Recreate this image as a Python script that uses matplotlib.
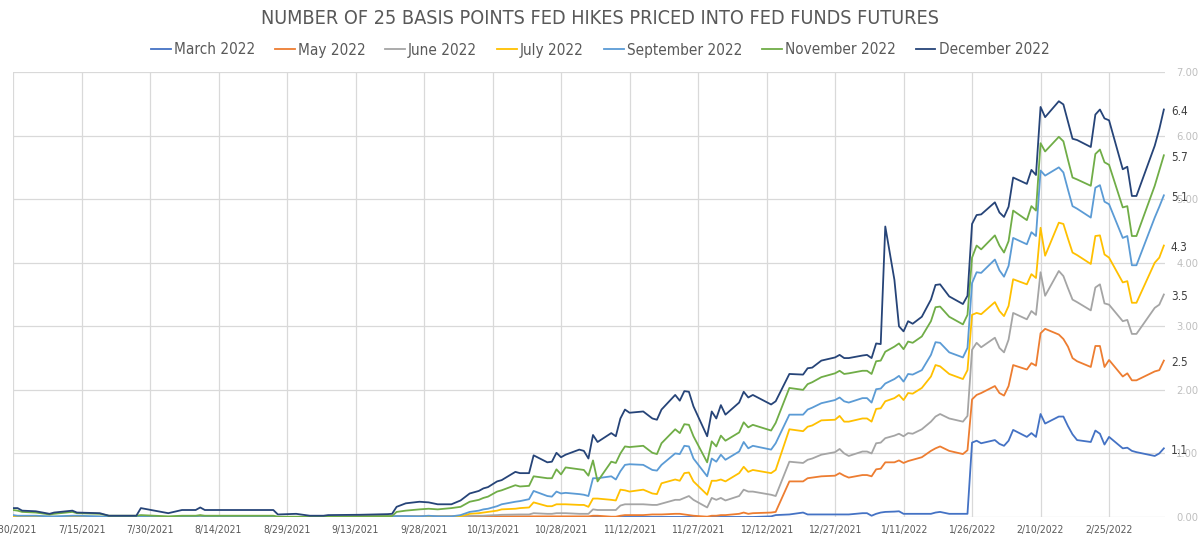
import matplotlib
matplotlib.use("Agg")
import matplotlib.pyplot as plt
from matplotlib import font_manager as fm
import pandas as pd
import datetime as dt

# ---------------- data ----------------
dates = [
    # Jul - Sep 2021
    "2021-06-30", "2021-07-01", "2021-07-02", "2021-07-05", "2021-07-08", "2021-07-09",
    "2021-07-13", "2021-07-14", "2021-07-19", "2021-07-21", "2021-07-27", "2021-07-28",
    "2021-08-03", "2021-08-06", "2021-08-09", "2021-08-10", "2021-08-11", "2021-08-26",
    "2021-08-27", "2021-08-31", "2021-09-03", "2021-09-06", "2021-09-07", "2021-09-14",
    "2021-09-20",
    # Sep 21 - Nov 5
    "2021-09-21", "2021-09-22", "2021-09-24", "2021-09-27", "2021-09-29", "2021-10-01",
    "2021-10-04", "2021-10-06", "2021-10-08", "2021-10-10", "2021-10-11", "2021-10-12",
    "2021-10-14", "2021-10-15", "2021-10-18", "2021-10-19", "2021-10-21", "2021-10-22",
    "2021-10-25", "2021-10-26", "2021-10-27", "2021-10-28", "2021-10-29", "2021-11-01",
    "2021-11-02", "2021-11-03", "2021-11-04", "2021-11-05",
    # Nov 8 - Dec 30
    "2021-11-08", "2021-11-09", "2021-11-10", "2021-11-11", "2021-11-12", "2021-11-15",
    "2021-11-17", "2021-11-18", "2021-11-19", "2021-11-22", "2021-11-23", "2021-11-24",
    "2021-11-25", "2021-11-26", "2021-11-29", "2021-11-30", "2021-12-01", "2021-12-02",
    "2021-12-03", "2021-12-06", "2021-12-07", "2021-12-08", "2021-12-09", "2021-12-13",
    "2021-12-14", "2021-12-17", "2021-12-20", "2021-12-21", "2021-12-22", "2021-12-24",
    "2021-12-27", "2021-12-28", "2021-12-29", "2021-12-30",
    # Jan 2022
    "2022-01-02", "2022-01-03", "2022-01-04", "2022-01-05", "2022-01-06", "2022-01-07",
    "2022-01-09", "2022-01-10", "2022-01-11", "2022-01-12", "2022-01-13", "2022-01-15",
    "2022-01-17", "2022-01-18", "2022-01-19", "2022-01-21", "2022-01-24", "2022-01-25",
    # Jan 26 - Mar 9 2022
    "2022-01-26", "2022-01-27", "2022-01-28", "2022-01-31", "2022-02-01", "2022-02-02",
    "2022-02-03", "2022-02-04", "2022-02-07", "2022-02-08", "2022-02-09", "2022-02-10",
    "2022-02-11", "2022-02-14", "2022-02-15", "2022-02-16", "2022-02-17", "2022-02-18",
    "2022-02-21", "2022-02-22", "2022-02-23", "2022-02-24", "2022-02-25", "2022-02-28",
    "2022-03-01", "2022-03-02", "2022-03-03", "2022-03-07", "2022-03-08", "2022-03-09",
]

march_2022 = (
    [0.01, 0.01, 0.005, 0, 0, 0, 0, 0, 0, 0, 0, 0, 0, 0, 0, 0, 0, 0, 0, 0, 0, 0, 0, 0, 0]
    + [0, 0, 0, 0, 0, 0, 0, 0, 0, 0, 0, 0, 0, 0, 0, 0, 0, 0, 0, 0, 0, 0, 0, 0, 0, 0, 0, 0]
    + [0, 0, 0, 0, 0, 0, 0, 0, 0, 0, 0, 0, 0, 0, 0, 0, 0, 0, 0, 0, 0, 0, 0,
       0.01, 0.03, 0.04, 0.07, 0.04, 0.04, 0.04, 0.04, 0.04, 0.04, 0.04]
    + [0.06, 0.06, 0.02, 0.05, 0.07, 0.08, 0.085, 0.09, 0.05, 0.05, 0.05, 0.05, 0.05,
       0.07, 0.08, 0.05, 0.05, 0.05]
    + [1.17, 1.20, 1.16, 1.21, 1.15, 1.12, 1.20, 1.37, 1.26, 1.32, 1.26, 1.62, 1.47, 1.58,
       1.58, 1.43, 1.30, 1.21, 1.18, 1.36, 1.31, 1.14, 1.26, 1.08, 1.09, 1.04, 1.02, 0.96,
       1.00, 1.08]
)
may_2022 = (
    [0, 0, 0, 0, 0, 0, 0, 0, 0, 0, 0, 0, 0, 0, 0, 0, 0, 0, 0, 0, 0, 0, 0, 0.01, 0.01]
    + [0.01, 0.01, 0.01, 0.01, 0.01, 0.01, 0.01, 0.01, 0.01, 0.01, 0.01, 0.01, 0.01, 0.01,
       0.01, 0.01, 0.01, 0.01, 0.01, 0.01, 0.01, 0.01, 0.01, 0.01, 0.01, 0.01, 0.02, 0.02]
    + [0.005, 0.005, 0.02, 0.03, 0.03, 0.03, 0.04, 0.04, 0.04, 0.05, 0.05, 0.04, 0.03, 0.02,
       0.005, 0.02, 0.02, 0.03, 0.03, 0.05, 0.07, 0.05, 0.06, 0.07, 0.08, 0.56, 0.56, 0.61,
       0.62, 0.64, 0.65, 0.69, 0.65, 0.62]
    + [0.66, 0.66, 0.64, 0.75, 0.76, 0.86, 0.86, 0.89, 0.85, 0.88, 0.90, 0.94, 1.04, 1.08,
       1.11, 1.04, 0.99, 1.05]
    + [1.85, 1.92, 1.95, 2.06, 1.95, 1.91, 2.06, 2.39, 2.32, 2.42, 2.38, 2.89, 2.96, 2.87,
       2.80, 2.68, 2.50, 2.45, 2.36, 2.69, 2.69, 2.36, 2.47, 2.21, 2.26, 2.15, 2.15, 2.29,
       2.31, 2.46]
)
june_2022 = (
    [0, 0, 0, 0, 0, 0, 0, 0, 0, 0, 0, 0, 0, 0, 0, 0, 0, 0, 0, 0, 0, 0, 0, 0, 0]
    + [0.005, 0.005, 0.005, 0.01, 0.01, 0.01, 0.01, 0.01, 0.015, 0.02, 0.02, 0.025, 0.03,
       0.035, 0.04, 0.04, 0.04, 0.06, 0.05, 0.05, 0.06, 0.06, 0.06, 0.05, 0.05, 0.05, 0.12,
       0.11]
    + [0.11, 0.11, 0.18, 0.20, 0.20, 0.20, 0.19, 0.19, 0.21, 0.27, 0.27, 0.30, 0.33, 0.27,
       0.15, 0.30, 0.27, 0.30, 0.26, 0.33, 0.43, 0.40, 0.40, 0.35, 0.33, 0.87, 0.85, 0.90,
       0.92, 0.98, 1.02, 1.07, 1.00, 0.96]
    + [1.03, 1.03, 1.00, 1.16, 1.17, 1.24, 1.28, 1.31, 1.27, 1.32, 1.31, 1.38, 1.50, 1.58,
       1.62, 1.55, 1.50, 1.59]
    + [2.63, 2.74, 2.67, 2.82, 2.66, 2.59, 2.79, 3.21, 3.11, 3.24, 3.18, 3.85, 3.48, 3.87,
       3.79, 3.60, 3.42, 3.38, 3.25, 3.61, 3.66, 3.36, 3.34, 3.08, 3.10, 2.88, 2.88, 3.29,
       3.34, 3.50]
)
july_2022 = (
    [0.01, 0.01, 0.01, 0.01, 0.005, 0.005, 0.005, 0.005, 0.005, 0, 0, 0, 0, 0, 0, 0, 0, 0,
     0, 0, 0, 0, 0, 0, 0]
    + [0.005, 0.005, 0.005, 0.005, 0.005, 0.005, 0.005, 0.01, 0.05, 0.06, 0.07, 0.08, 0.10,
       0.12, 0.13, 0.14, 0.15, 0.23, 0.17, 0.17, 0.20, 0.20, 0.20, 0.19, 0.19, 0.16, 0.29,
       0.29]
    + [0.27, 0.26, 0.43, 0.42, 0.40, 0.43, 0.37, 0.36, 0.53, 0.59, 0.57, 0.69, 0.70, 0.56,
       0.35, 0.57, 0.57, 0.59, 0.56, 0.69, 0.79, 0.71, 0.74, 0.69, 0.74, 1.38, 1.35, 1.42,
       1.44, 1.52, 1.53, 1.59, 1.50, 1.50]
    + [1.55, 1.55, 1.50, 1.70, 1.71, 1.82, 1.87, 1.92, 1.84, 1.95, 1.94, 2.03, 2.21, 2.39,
       2.37, 2.25, 2.17, 2.31]
    + [3.18, 3.21, 3.19, 3.38, 3.24, 3.16, 3.32, 3.74, 3.66, 3.82, 3.76, 4.55, 4.11, 4.63,
       4.61, 4.38, 4.16, 4.12, 3.98, 4.42, 4.43, 4.13, 4.08, 3.69, 3.71, 3.37, 3.37, 4.00,
       4.08, 4.27]
)
september_2022 = (
    [0.03, 0.02, 0.02, 0.02, 0.01, 0.01, 0.02, 0.02, 0.01, 0.0, 0.0, 0.01, 0.0, 0.01, 0.01,
     0.02, 0.01, 0.01, 0.0, 0.0, 0.0, 0.0, 0.0, 0.005, 0.01]
    + [0.01, 0.015, 0.015, 0.01, 0.02, 0.01, 0.01, 0.03, 0.08, 0.10, 0.12, 0.13, 0.17, 0.20,
       0.24, 0.25, 0.28, 0.41, 0.33, 0.32, 0.40, 0.37, 0.38, 0.36, 0.35, 0.33, 0.61, 0.61]
    + [0.64, 0.59, 0.72, 0.82, 0.83, 0.82, 0.74, 0.73, 0.82, 1.00, 0.99, 1.12, 1.11, 0.92,
       0.64, 0.92, 0.87, 0.98, 0.90, 1.03, 1.18, 1.08, 1.12, 1.06, 1.16, 1.61, 1.61, 1.69,
       1.72, 1.79, 1.84, 1.88, 1.82, 1.80]
    + [1.87, 1.87, 1.80, 2.01, 2.02, 2.10, 2.17, 2.22, 2.13, 2.25, 2.24, 2.31, 2.55, 2.75,
       2.74, 2.59, 2.51, 2.66]
    + [3.68, 3.85, 3.84, 4.05, 3.88, 3.78, 3.95, 4.39, 4.29, 4.48, 4.42, 5.45, 5.37, 5.50,
       5.42, 5.15, 4.89, 4.85, 4.71, 5.18, 5.22, 4.96, 4.92, 4.39, 4.42, 3.96, 3.96, 4.71,
       4.88, 5.06]
)
november_2022 = (
    [0.11, 0.10, 0.08, 0.07, 0.04, 0.05, 0.08, 0.06, 0.05, 0.02, 0.02, 0.03, 0.01, 0.02,
     0.02, 0.03, 0.02, 0.02, 0.005, 0.005, 0.005, 0.005, 0.005, 0.01, 0.015]
    + [0.015, 0.08, 0.10, 0.12, 0.13, 0.12, 0.14, 0.16, 0.24, 0.27, 0.30, 0.32, 0.40, 0.42,
       0.50, 0.48, 0.49, 0.64, 0.61, 0.61, 0.75, 0.67, 0.78, 0.75, 0.74, 0.65, 0.89, 0.56]
    + [0.87, 0.85, 1.00, 1.11, 1.10, 1.12, 1.01, 0.99, 1.16, 1.38, 1.32, 1.46, 1.45, 1.27,
       0.86, 1.19, 1.11, 1.28, 1.20, 1.33, 1.49, 1.41, 1.45, 1.36, 1.48, 2.03, 2.00, 2.09,
       2.12, 2.20, 2.26, 2.30, 2.25, 2.26]
    + [2.30, 2.30, 2.25, 2.45, 2.46, 2.60, 2.68, 2.73, 2.64, 2.76, 2.74, 2.84, 3.08, 3.30,
       3.31, 3.15, 3.03, 3.18]
    + [4.08, 4.27, 4.21, 4.43, 4.27, 4.16, 4.34, 4.82, 4.67, 4.89, 4.82, 5.88, 5.75, 5.98,
       5.91, 5.62, 5.34, 5.31, 5.21, 5.71, 5.78, 5.58, 5.54, 4.87, 4.89, 4.42, 4.42, 5.21,
       5.45, 5.69]
)
december_2022 = (
    [0.14, 0.14, 0.10, 0.09, 0.05, 0.07, 0.10, 0.07, 0.06, 0.02, 0.02, 0.14, 0.06, 0.11,
     0.11, 0.15, 0.11, 0.11, 0.04, 0.05, 0.02, 0.02, 0.03, 0.035, 0.045]
    + [0.05, 0.16, 0.215, 0.24, 0.23, 0.20, 0.20, 0.26, 0.37, 0.41, 0.45, 0.47, 0.56, 0.58,
       0.71, 0.69, 0.69, 0.97, 0.86, 0.87, 1.01, 0.94, 0.98, 1.06, 1.04, 0.92, 1.29, 1.18]
    + [1.32, 1.27, 1.55, 1.69, 1.64, 1.66, 1.55, 1.53, 1.69, 1.92, 1.83, 1.98, 1.97, 1.74,
       1.27, 1.66, 1.55, 1.76, 1.61, 1.80, 1.97, 1.88, 1.92, 1.77, 1.82, 2.25, 2.24, 2.34,
       2.35, 2.46, 2.51, 2.55, 2.50, 2.50]
    + [2.54, 2.55, 2.50, 2.73, 2.72, 4.57, 3.73, 3.00, 2.92, 3.08, 3.04, 3.15, 3.42, 3.65,
       3.66, 3.47, 3.35, 3.48]
    + [4.61, 4.75, 4.76, 4.95, 4.79, 4.72, 4.88, 5.34, 5.24, 5.46, 5.38, 6.45, 6.29, 6.54,
       6.49, 6.22, 5.95, 5.93, 5.82, 6.33, 6.41, 6.27, 6.24, 5.47, 5.51, 5.05, 5.05, 5.84,
       6.10, 6.41]
)

series_names = ["March 2022", "May 2022", "June 2022", "July 2022",
                "September 2022", "November 2022", "December 2022"]
series_values = [march_2022, may_2022, june_2022, july_2022,
                 september_2022, november_2022, december_2022]
end_labels = ["1.1", "2.5", "3.5", "4.3", "5.1", "5.7", "6.4"]
y_ticks = [0, 1, 2, 3, 4, 5, 6, 7]
title = "NUMBER OF 25 BASIS POINTS FED HIKES PRICED INTO FED FUNDS FUTURES"

colors = ["#4472C4", "#ED7D31", "#A5A5A5", "#FFC000", "#5B9BD5", "#70AD47", "#264478"]

for v in series_values:
    assert len(v) == len(dates), len(v)

# ---------------- fonts ----------------
ttf = fm.fontManager.ttflist
avail = {f.name for f in ttf}
condensed = [f for f in ttf if f.name == "DejaVu Sans" and str(f.stretch) == "condensed"
             and f.style == "normal" and f.weight in (400, "normal", "regular")]
if "Liberation Sans Narrow" in avail:
    plt.rcParams["font.family"] = ["Liberation Sans Narrow", "DejaVu Sans"]
    scale = 1.0
elif condensed:
    plt.rcParams["font.family"] = ["DejaVu Sans"]
    plt.rcParams["font.stretch"] = "condensed"
    scale = 1.0
else:
    plt.rcParams["font.family"] = ["Liberation Sans", "DejaVu Sans"]
    scale = 0.97

x = pd.to_datetime(dates)

fig = plt.figure(figsize=(12, 5.42), dpi=100)
ax = fig.add_axes([13 / 1200, 1 - 517 / 542, 1152 / 1200, 445 / 542])

lines = []
for name, vals, c in zip(series_names, series_values, colors):
    ln, = ax.plot(x, vals, color=c, lw=1.3, label=name, solid_joinstyle="round")
    lines.append(ln)

start = dt.datetime(2021, 6, 30)
end = dt.datetime(2022, 3, 9, 6)
ax.set_xlim(start, end)
ax.set_ylim(0, 7)
xt = pd.date_range(start, end, freq="15D")
ax.set_xticks(xt)
ax.set_xticklabels([f"{d.month}/{d.day}/{d.year}" for d in xt])
ax.set_yticks(y_ticks)
ax.set_yticklabels([f"{t:.2f}" for t in y_ticks])
ax.yaxis.tick_right()
ax.tick_params(axis="y", length=0, pad=8, labelsize=8 * scale, labelcolor="#BFBFBF")
ax.tick_params(axis="x", length=0, pad=6, labelsize=7.5 * scale, labelcolor="#595959")
for t in ax.get_yticklabels():
    t.set_horizontalalignment("left")

ax.grid(True, color="#D9D9D9", lw=0.9)
ax.set_axisbelow(True)
for s in ax.spines.values():
    s.set_visible(False)

for lab, vals in zip(end_labels, series_values):
    ax.annotate(lab, xy=(x[-1], vals[-1]), xytext=(5, -1.5), textcoords="offset points",
                ha="left", va="center", fontsize=8.5 * scale, color="#404040",
                annotation_clip=False)

fig.text(0.5, 1 - 19 / 542, title, ha="center", va="center", fontsize=14.2 * scale,
         color="#595959")
fig.legend(handles=lines, loc="center", bbox_to_anchor=(0.5, 1 - 50 / 542), ncol=7,
           frameon=False, fontsize=11 * scale, handlelength=1.3, handletextpad=0.2,
           columnspacing=1.3, labelcolor="#595959")

fig.savefig("out.png", dpi=100)
